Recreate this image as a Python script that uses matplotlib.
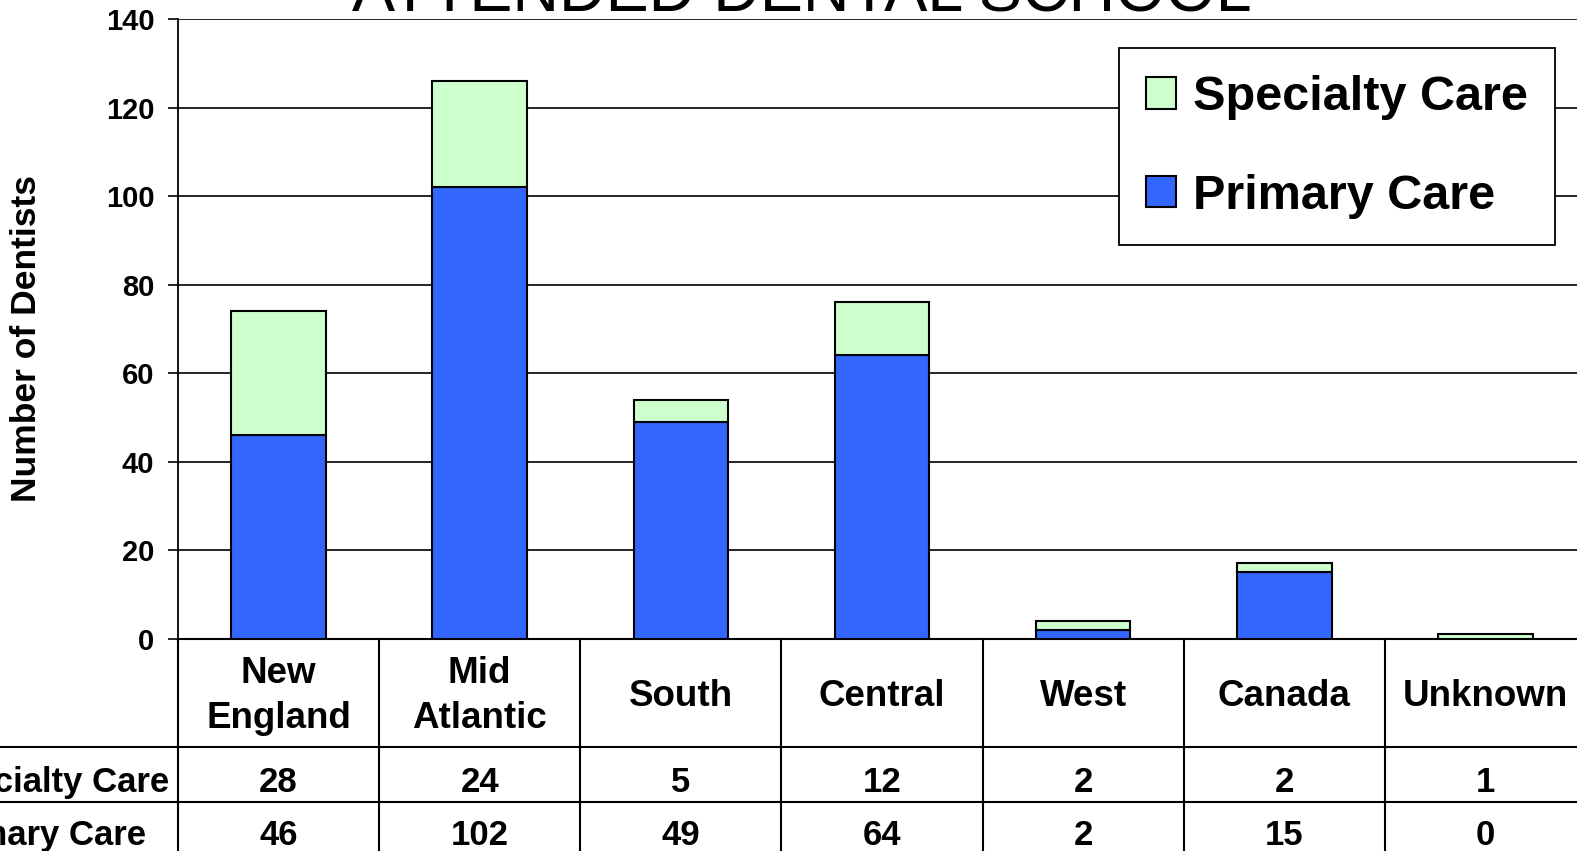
import matplotlib.pyplot as plt
import matplotlib.transforms as mtransforms
import numpy as np

regions = ['New\nEngland', 'Mid\nAtlantic', 'South', 'Central', 'West', 'Canada', 'Unknown']
specialty = [28, 24, 5, 12, 2, 2, 1]
primary = [46, 102, 49, 64, 2, 15, 0]
row_names = ['Specialty Care', 'Primary Care']

plt.rcParams['font.family'] = ['Liberation Sans', 'DejaVu Sans']
plt.rcParams['font.weight'] = 'bold'

fig = plt.figure(figsize=(15.77, 8.51), dpi=100)
W, H = 1577., 851.
ax = fig.add_axes([178/W, 1-638.6/H, 1408/W, (638.6-19.1)/H])

x = np.arange(len(regions))
ax.bar(x, primary, width=0.47, color='#3366FF', edgecolor='black', linewidth=1.5, zorder=3, label='Primary Care')
ax.bar(x, specialty, width=0.47, bottom=primary, color='#CCFFCC', edgecolor='black', linewidth=1.5, zorder=3, label='Specialty Care')

ax.set_xlim(-0.5, 6.5)
ax.set_ylim(0, 140)
ax.set_yticks(np.arange(0, 141, 20))
ax.set_xticks([])
ax.yaxis.grid(True, color='black', linewidth=1.2)
ax.set_axisbelow(True)
ax.tick_params(axis='y', length=7, width=1.2, pad=10, labelsize=21)
for s in ['top', 'right']:
    ax.spines[s].set_visible(False)
ax.spines['left'].set_linewidth(1.3)
ax.spines['bottom'].set_linewidth(1.5)

# data table under the bars
tr = mtransforms.blended_transform_factory(ax.transData, ax.transAxes)
row_lines = [-0.1755, -0.263]
for yl in row_lines:
    ax.plot([-3, 8], [yl, yl], color='black', lw=1.5, transform=tr, clip_on=False)
for k in range(len(regions) + 1):
    ax.plot([k-0.5, k-0.5], [0, -0.4], color='black', lw=1.5, transform=tr, clip_on=False)

for i, r in enumerate(regions):
    ax.text(i, -0.093, r, transform=tr, ha='center', va='center', fontsize=26.5, linespacing=1.37)
    ax.text(i, -0.232, str(specialty[i]), transform=tr, ha='center', va='center', fontsize=25)
    ax.text(i, -0.318, str(primary[i]), transform=tr, ha='center', va='center', fontsize=25)

lab_x = -0.5 - (178+70)/201.1
ax.text(lab_x, -0.232, row_names[0], transform=tr, ha='left', va='center', fontsize=25)
ax.text(lab_x, -0.318, row_names[1], transform=tr, ha='left', va='center', fontsize=25)

h, l = ax.get_legend_handles_labels()
leg = ax.legend(h[::-1], l[::-1], loc='upper left', bbox_to_anchor=(1119/W, 1-48.3/H),
                bbox_transform=fig.transFigure, borderaxespad=0, fontsize=35,
                handlelength=0.62, handleheight=0.62, handletextpad=0.35, labelspacing=1.1,
                fancybox=False, framealpha=1, edgecolor='black', borderpad=0.55)
leg.get_frame().set_linewidth(1.3)

fig.text(27/W, 1-339/H, 'Number of Dentists', rotation=90, ha='center', va='center', fontsize=25.5)
fig.text(802/W, 1-12/H, 'ATTENDED DENTAL SCHOOL', ha='center', va='baseline', fontsize=46.5, fontweight='normal')

fig.savefig('out.png', dpi=100)
